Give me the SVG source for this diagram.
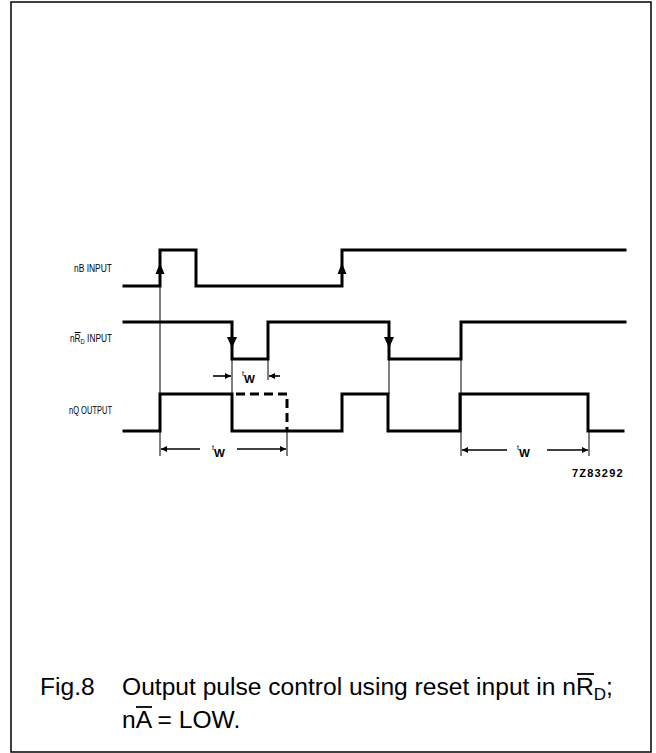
<svg xmlns="http://www.w3.org/2000/svg" width="656" height="753" viewBox="0 0 656 753">
<defs>
<style>
.frame{fill:none;stroke:#000;stroke-width:1.5}
.wave{fill:none;stroke:#000;stroke-width:3;stroke-linejoin:miter;stroke-linecap:square}
.dash{fill:none;stroke:#000;stroke-width:3;stroke-dasharray:9 5}
.thin{fill:none;stroke:#000;stroke-width:1}
.dim{fill:none;stroke:#000;stroke-width:1.6}
.arr{fill:#000;stroke:none}
.lbl{font-family:"Liberation Sans",Arial,sans-serif;font-size:10px;fill:#000}
.tw{font-family:"Liberation Sans",Arial,sans-serif;fill:#000}
.code{font-family:"Liberation Sans",Arial,sans-serif;font-size:11px;font-weight:bold;letter-spacing:1.2px;fill:#000}
.cap{font-family:"Liberation Sans",Arial,sans-serif;font-size:24.6px;fill:#000}
.ov{stroke:#000;stroke-width:1.8}
</style>
<marker id="ah" viewBox="0 0 10 10" refX="10" refY="5" markerWidth="7" markerHeight="6" orient="auto-start-reverse" markerUnits="userSpaceOnUse">
<path d="M0,0 L10,5 L0,10 z" fill="#000"/>
</marker>
</defs>
<rect class="frame" x="11" y="2" width="640" height="750"/>

<g id="guides">
<line class="thin" x1="160" y1="286" x2="160" y2="456"/>
<line class="thin" x1="232" y1="359" x2="232" y2="394"/>
<line class="thin" x1="268" y1="359" x2="268" y2="380"/>
<line class="thin" x1="287" y1="431" x2="287" y2="456"/>
<line class="thin" x1="389" y1="359" x2="389" y2="394"/>
<line class="thin" x1="461" y1="359" x2="461" y2="456"/>
<line class="thin" x1="589" y1="431" x2="589" y2="456"/>
</g>

<g id="nB-input">
<text class="lbl" x="74" y="272" textLength="38" lengthAdjust="spacingAndGlyphs">nB INPUT</text>
<polyline class="wave" points="124,286 160,286 160,250 196,250 196,286 342,286 342,250 625,250"/>
<path class="arr" d="M160,263 L155.5,274 L164.5,274 z"/>
<path class="arr" d="M342,263 L337.5,274 L346.5,274 z"/>
</g>

<g id="nRD-input">
<text class="lbl" x="70" y="342" textLength="42" lengthAdjust="spacingAndGlyphs">n<tspan text-decoration="overline">R</tspan><tspan font-size="7" dy="2">D</tspan><tspan dy="-2"> INPUT</tspan></text>
<polyline class="wave" points="124,322 232,322 232,359 268,359 268,322 389,322 389,359 461,359 461,322 625,322"/>
<path class="arr" d="M232,348 L227,337 L237,337 z"/>
<path class="arr" d="M389,348 L384,337 L394,337 z"/>
</g>

<g id="nQ-output">
<text class="lbl" x="69" y="414" textLength="43" lengthAdjust="spacingAndGlyphs">nQ OUTPUT</text>
<polyline class="wave" points="124,431 160,431 160,394 232,394 232,431 342,431 342,394 388,394 388,431 460,431 460,394 588,394 588,431 623,431"/>
<polyline class="dash" points="236,394 287,394 287,431"/>
</g>

<g id="tw-dims">
<line class="dim" x1="200" y1="449" x2="161" y2="449" marker-end="url(#ah)"/>
<line class="dim" x1="237" y1="449" x2="286" y2="449" marker-end="url(#ah)"/>
<text class="tw" x="212" y="450" font-size="7">t<tspan font-size="11.5" font-weight="bold" dy="6.5">W</tspan></text>

<line class="dim" x1="213" y1="376" x2="231" y2="376" marker-end="url(#ah)"/>
<line class="dim" x1="280" y1="376" x2="269" y2="376" marker-end="url(#ah)"/>
<text class="tw" x="242" y="376" font-size="7">t<tspan font-size="11.5" font-weight="bold" dy="6.5">W</tspan></text>

<line class="dim" x1="507" y1="450" x2="462" y2="450" marker-end="url(#ah)"/>
<line class="dim" x1="547" y1="450" x2="588" y2="450" marker-end="url(#ah)"/>
<text class="tw" x="517" y="450" font-size="7">t<tspan font-size="11.5" font-weight="bold" dy="6.5">W</tspan></text>

<text class="code" x="572" y="477">7Z83292</text>
</g>

<g id="caption">
<text class="cap" x="40" y="695">Fig.8</text>
<text class="cap" x="122" y="695">Output pulse control using reset input in nR<tspan font-size="17" dy="5">D</tspan><tspan dy="-5">;</tspan></text>
<line class="ov" x1="577" y1="674" x2="594" y2="674"/>
<text class="cap" x="122" y="728">nA = LOW.</text>
<line class="ov" x1="136" y1="707" x2="152" y2="707"/>
</g>
</svg>
